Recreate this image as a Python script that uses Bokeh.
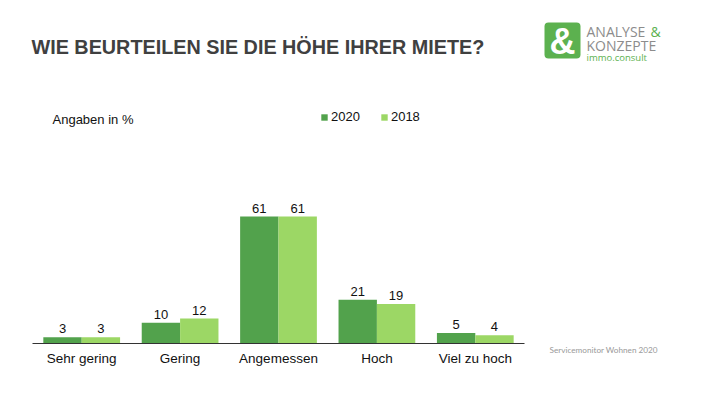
from bokeh.plotting import figure
from bokeh.models import (ColumnDataSource, Range1d, LabelSet, Label, Legend, LegendItem,
                          BoxAnnotation)
from bokeh.core.properties import value
from bokeh.transform import dodge
from bokeh.embed import file_html
from bokeh.resources import INLINE

categories = ["Sehr gering", "Gering", "Angemessen", "Hoch", "Viel zu hoch"]
values_2020 = [3, 10, 61, 21, 5]
values_2018 = [3, 12, 61, 19, 4]
series_names = ["2020", "2018"]

DARK = "#52a24c"
LIGHT = "#9cd765"
W, H = 710, 399
X0, CW = 32, 98.4      # page x of axis start, px per category
Y0, PU = 343, 2.08     # page y of baseline, px per percent

src = ColumnDataSource(dict(cat=categories, x=[i + 0.5 for i in range(len(categories))],
                            v2020=values_2020, v2018=values_2018,
                            t2020=[str(v) for v in values_2020],
                            t2018=[str(v) for v in values_2018]))

p = figure(width=W, height=H, x_range=Range1d(-X0 / CW, (W - X0) / CW),
           y_range=Range1d(-(H - Y0) / PU, Y0 / PU), output_backend="svg",
           toolbar_location=None, min_border=0)
p.outline_line_color = None
p.xgrid.visible = False
p.ygrid.visible = False
p.xaxis.visible = False
p.yaxis.visible = False
p.background_fill_color = "white"
p.border_fill_color = "white"

w = 0.39
r1 = p.vbar(x=dodge("x", -w / 2, range=p.x_range), top="v2020", width=w, source=src,
            fill_color=DARK, line_color=None)
r2 = p.vbar(x=dodge("x", w / 2, range=p.x_range), top="v2018", width=w, source=src,
            fill_color=LIGHT, line_color=None)

# baseline (category axis line)
p.segment(x0=[0], y0=[0], x1=[len(categories)], y1=[0], line_color="#333333", line_width=1)

# category labels
p.text(x="x", y=-7, text="cat", source=src, text_align="center", text_baseline="middle",
       text_font=value("Liberation Sans"), text_font_size="13.5px", text_color="#111111")

for col, off in (("2020", -w / 2), ("2018", w / 2)):
    p.add_layout(LabelSet(x=dodge("x", off, range=p.x_range), y="v" + col, text="t" + col,
                          source=src, text_align="center", text_baseline="bottom",
                          y_offset=4, text_font=value("Liberation Sans"),
                          text_font_size="13px", text_color="#111111"))

legend = Legend(items=[LegendItem(label=series_names[0], renderers=[r1]),
                       LegendItem(label=series_names[1], renderers=[r2])],
                orientation="horizontal", location=(320, 275),
                glyph_width=8, glyph_height=8, label_standoff=3, spacing=20,
                padding=0, margin=0, border_line_color=None, background_fill_alpha=0,
                label_text_font="Liberation Sans", label_text_font_size="13px",
                label_text_color="#111111")
p.add_layout(legend, "center")


def lab(x, y, text, size, color, font="Liberation Sans", style="normal", align="left",
        baseline="middle"):
    # x, y in page pixels (y from top)
    p.add_layout(Label(x=x, y=H - y, x_units="screen", y_units="screen", text=text,
                       text_font_size=size, text_color=color, text_font=font,
                       text_font_style=style, text_align=align, text_baseline=baseline))


lab(31, 46, "WIE BEURTEILEN SIE DIE HÖHE IHRER MIETE?", "19.8px", "#404040", style="bold")
lab(52, 119, "Angaben in %", "13px", "#111111")
lab(549, 349, "Servicemonitor Wohnen 2020", "8.2px", "#999999", font="Lato")

# logo
p.add_layout(BoxAnnotation(left=544, right=580, bottom=H - 58, top=H - 22,
                           left_units="screen", right_units="screen", bottom_units="screen",
                           top_units="screen", fill_color="#5cb14f", fill_alpha=1,
                           line_color=None, border_radius=4))
lab(562, 41, "&", "36px", "white", style="bold", align="center")
lab(586, 30.5, "ANALYSE", "14px", "#8c8c8c", font="Open Sans")
lab(650, 30.5, "&", "14px", "#5cb14f", font="Open Sans")
lab(586, 44.5, "KONZEPTE", "14px", "#8c8c8c", font="Open Sans")
lab(586, 57, "immo.consult", "9.5px", "#5cb14f", font="Open Sans")

open("out.html", "w").write(file_html(p, INLINE))
